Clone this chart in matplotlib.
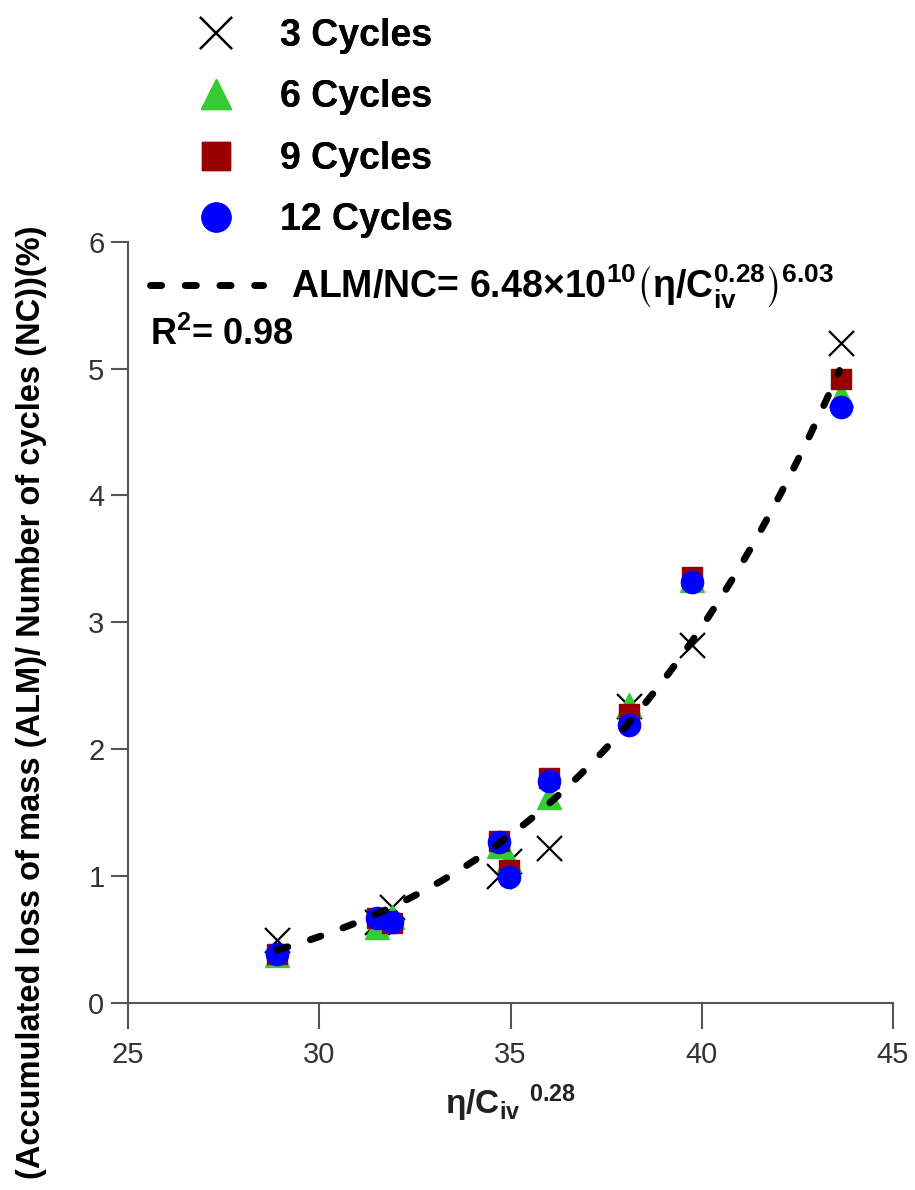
import numpy as np
import matplotlib
matplotlib.use('Agg')
import matplotlib.pyplot as plt

# Dados (eta/Civ^0.28 vs ALM/NC)
x_vals = [28.9, 31.5, 31.9, 34.7, 34.95, 36.0, 38.1, 39.75, 43.65]
cycles_3 = [0.50, 0.64, 0.76, 1.00, 1.12, 1.22, 2.34, 2.82, 5.20]
cycles_6 = [0.38, 0.60, 0.68, 1.24, 1.13, 1.62, 2.35, 3.33, 4.79]
cycles_9 = [0.39, 0.67, 0.63, 1.28, 1.05, 1.77, 2.28, 3.36, 4.92]
cycles_12 = [0.39, 0.67, 0.64, 1.27, 0.99, 1.75, 2.19, 3.32, 4.70]

series_labels = ['3 Cycles', '6 Cycles', '9 Cycles', '12 Cycles']

# Ajuste potencia ALM/NC = a * x^b
fit_coef = 6.48e-10
fit_exp = 6.03
fit_range = [28.9, 43.6]
r2 = 0.98

x_ticks = [25, 30, 35, 40, 45]
y_ticks = [0, 1, 2, 3, 4, 5, 6]

plt.rcParams['font.family'] = ['Liberation Sans', 'DejaVu Sans']
plt.rcParams['mathtext.default'] = 'regular'

fig = plt.figure(figsize=(9.15, 11.9), dpi=100)
ax = fig.add_axes([0.1399, 0.1571, 0.8361, 0.6398])

h3, = ax.plot(x_vals, cycles_3, linestyle='none', marker='x', ms=18, mew=1.6,
              color='black', zorder=3)
h6, = ax.plot(x_vals, cycles_6, linestyle='none', marker='^', ms=17,
              color='#33cc33', mec='#33cc33', zorder=4)
h9, = ax.plot(x_vals, cycles_9, linestyle='none', marker='s', ms=15,
              color='#990000', mec='#990000', zorder=5)
h12, = ax.plot(x_vals, cycles_12, linestyle='none', marker='o', ms=16,
               color='#0000ff', mec='#0000ff', zorder=6)

# Curva de ajuste
x_fit = np.linspace(fit_range[0], fit_range[1], 200)
y_fit = fit_coef * x_fit ** fit_exp
fit_line, = ax.plot(x_fit, y_fit, color='black', lw=5, dashes=(1.6, 3.4),
                    dash_capstyle='round', zorder=7)

ax.set_xlim(25, 45)
ax.set_ylim(0, 6)
ax.set_xticks(x_ticks)
ax.set_yticks(y_ticks)
for s in ['top', 'right']:
    ax.spines[s].set_visible(False)
for s in ['left', 'bottom']:
    ax.spines[s].set_color('#555555')
    ax.spines[s].set_linewidth(1.5)
ax.tick_params(axis='both', direction='out', width=1.5,
               color='#555555', labelcolor='#333333')
ax.tick_params(axis='x', length=19, pad=8, labelsize=21)
ax.tick_params(axis='y', length=12, pad=5, labelsize=21)

ax.set_xlabel(r'η/C$_{iv}$ $^{0.28}$', fontsize=24, fontweight='bold',
              color='#222222', labelpad=10)
fig.text(0.034, 0.41, '(Accumulated loss of mass (ALM)/ Number of cycles (NC))(%)',
         rotation=90, ha='center', va='center', fontsize=23.5, fontweight='bold')

# Legenda dos ciclos (acima do grafico)
leg1 = ax.legend([h3, h6, h9, h12], series_labels, loc='upper left',
                 bbox_to_anchor=(0.2153, 0.985), bbox_transform=fig.transFigure,
                 frameon=False, borderpad=0, borderaxespad=0, markerscale=1.3,
                 handlelength=1.0, handletextpad=1.21, labelspacing=0.68,
                 prop={'weight': 'bold', 'size': 27})
ax.add_artist(leg1)

# Legenda da curva de ajuste
eq_label = r'ALM/NC= 6.48$\times$10$^{10}$$\left(η/C_{iv}^{0.28}\right)^{6.03}$'
fig.legend([fit_line], [eq_label], loc='center left',
           bbox_to_anchor=(0.164, 1 - 287 / 1190), frameon=False, borderpad=0,
           borderaxespad=0, handlelength=3.0, handletextpad=0.75,
           prop={'weight': 'bold', 'size': 27})

fig.text(0.164, 1 - 335 / 1190, r'R$^2$= %.2f' % r2, ha='left', va='center',
         fontsize=26, fontweight='bold')

fig.savefig('out.png', dpi=100)
